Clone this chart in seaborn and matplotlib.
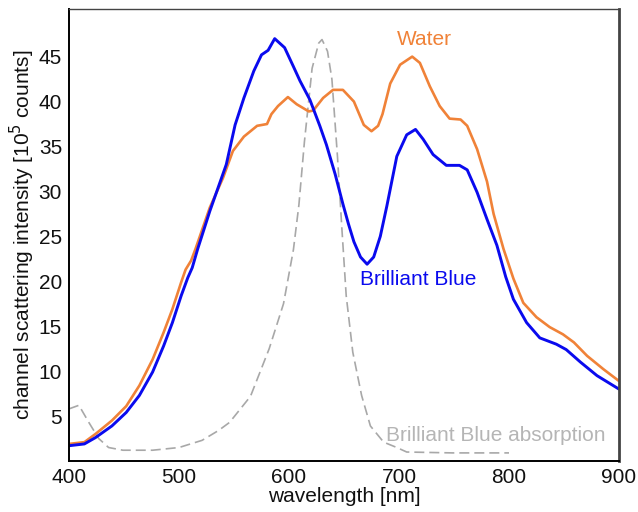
import matplotlib
matplotlib.use("Agg")
import matplotlib.pyplot as plt
import seaborn as sns

# Brilliant Blue scattering
bb_wl = [400, 414, 424, 439, 452, 464, 476, 486, 494, 502, 508, 512, 517, 528, 543,
         551, 559, 568, 575, 581, 587, 596, 604, 610, 619, 628, 634, 642, 649, 654,
         659, 665, 671, 677, 683, 689, 698, 707, 715, 722, 731, 743, 755, 762, 771, 780,
         789, 797, 804, 816, 828, 843, 852, 865, 880, 900]
bb_val = [1.7, 1.9, 2.6, 3.9, 5.4, 7.3, 9.9, 12.8, 15.4, 18.4, 20.4, 21.5, 23.6, 27.8, 33.0,
          37.4, 40.4, 43.4, 45.2, 45.7, 47.0, 46.0, 43.9, 42.3, 40.2, 37.3, 35.2, 31.9, 28.6, 26.4,
          24.4, 22.7, 21.9, 22.7, 25.0, 28.4, 33.9, 36.3, 36.9, 35.8, 34.1, 32.9, 32.9, 32.4, 29.9, 26.9,
          24.0, 20.5, 18.0, 15.4, 13.7, 13.0, 12.4, 11.0, 9.5, 8.0]

# Water scattering
w_wl = [400, 414, 424, 439, 452, 464, 476, 486, 494, 502, 506, 511, 515, 528, 540,
        549, 559, 571, 580, 584, 590, 599, 607, 618, 622, 631, 640, 649, 659, 668,
        675, 681, 685, 692, 701, 712, 719, 728, 737, 746, 756, 762, 771, 780, 786,
        795, 804, 813, 825, 837, 849, 859, 871, 886, 900]
w_val = [1.9, 2.1, 3.0, 4.5, 6.1, 8.4, 11.3, 14.3, 16.9, 19.9, 21.3, 22.3, 23.6, 28.2, 31.5,
         34.5, 36.1, 37.3, 37.5, 38.6, 39.5, 40.5, 39.7, 38.9, 39.0, 40.4, 41.3, 41.3, 40.0, 37.4,
         36.7, 37.3, 38.6, 42.0, 44.1, 45.0, 44.3, 41.7, 39.5, 38.1, 38.0, 37.3, 34.7, 31.1, 27.5,
         23.6, 20.3, 17.6, 16.0, 14.9, 14.1, 13.2, 11.7, 10.2, 8.9]

# Brilliant Blue absorption (scaled)
abs_wl = [400, 409, 418, 427, 436, 449, 476, 500, 521, 536, 546, 565, 582, 595, 604,
          609, 614, 621, 627, 630, 635, 639, 644, 648, 652, 658, 666, 674, 686, 698,
          707, 749, 800]
abs_val = [5.8, 6.2, 4.3, 2.5, 1.5, 1.2, 1.2, 1.5, 2.3, 3.4, 4.3, 7.2, 12.5, 17.5, 23.5,
           28.5, 35.5, 43.7, 46.5, 46.9, 45.6, 42.5, 34.0, 26.0, 18.4, 12.1, 7.3, 3.9, 2.1, 1.5,
           1.0, 0.9, 0.9]

x_ticks = [400, 500, 600, 700, 800, 900]
y_ticks = [5, 10, 15, 20, 25, 30, 35, 40, 45]

sns.set_theme(style="white")
plt.rcParams['font.family'] = ['Liberation Sans', 'DejaVu Sans']

fig = plt.figure(figsize=(6.38, 5.12), dpi=100)
ax = fig.add_axes([69/638, 1 - 461/512, (619-69)/638, (461-9)/512])

BLUE = "#0a0aee"
ORANGE = "#f08238"
GREY = "#a8a8a8"

sns.lineplot(x=abs_wl, y=abs_val, ax=ax, color=GREY, linestyle=(0, (6, 3)), linewidth=1.2)
sns.lineplot(x=w_wl, y=w_val, ax=ax, color=ORANGE, linewidth=1.9)
sns.lineplot(x=bb_wl, y=bb_val, ax=ax, color=BLUE, linewidth=2.1)

ax.set_xlim(400, 900)
ax.set_ylim(0, 50.3)
ax.set_xticks(x_ticks)
ax.set_yticks(y_ticks)
ax.tick_params(direction="in", length=3, width=1, colors="black", labelsize=15, pad=5)
for lab in ax.get_xticklabels() + ax.get_yticklabels():
    lab.set_color("#111111")

ax.set_xlabel("wavelength [nm]", fontsize=15, labelpad=0, color="#111111")
ax.set_ylabel("channel scattering intensity [10$^5$ counts]", fontsize=15, labelpad=1, color="#111111")

for side in ["left", "bottom"]:
    ax.spines[side].set_color("black")
    ax.spines[side].set_linewidth(1.4)
ax.spines["top"].set_color("#444444")
ax.spines["top"].set_linewidth(1.0)
ax.spines["right"].set_color("#444444")
ax.spines["right"].set_linewidth(2.0)

ax.text(723, 46.9, "Water", color=ORANGE, fontsize=15, ha="center", va="center")
ax.text(717, 20.2, "Brilliant Blue", color=BLUE, fontsize=15, ha="center", va="center")
ax.text(788, 2.8, "Brilliant Blue absorption", color="#b5b5b5", fontsize=15, ha="center", va="center")

fig.savefig("out.png", dpi=100)
